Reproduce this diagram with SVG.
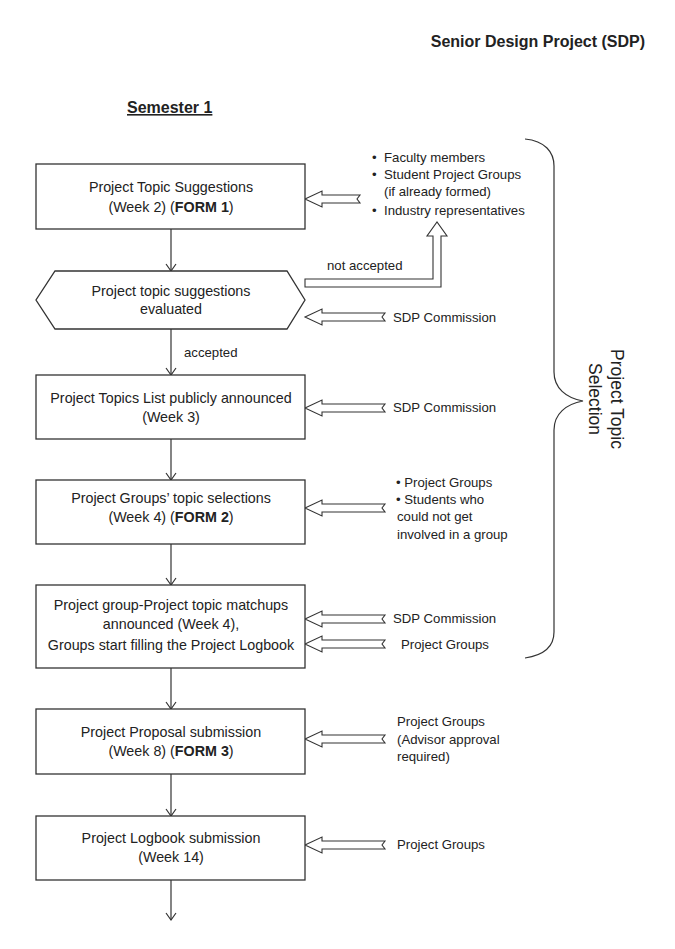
<svg xmlns="http://www.w3.org/2000/svg" xmlns:xlink="http://www.w3.org/1999/xlink" width="675" height="949" viewBox="0 0 675 949">
<style>
text{font-family:"Liberation Sans",Arial,sans-serif;fill:#222;}
.box{fill:#fff;stroke:#333;stroke-width:1.3;}
.nt{font-size:14.3px;text-anchor:middle;}
.lb{font-size:13.2px;}
.flow{stroke:#333;stroke-width:1.2;fill:none;}
.blk{fill:#fff;stroke:#333;stroke-width:1.1;stroke-linejoin:miter;}
.hd{font-size:16px;font-weight:bold;}
</style>
<defs>
<marker id="v" markerWidth="12" markerHeight="12" refX="10" refY="6" orient="auto" markerUnits="userSpaceOnUse" viewBox="0 0 12 12">
<path d="M3,1 L10,6 L3,11" fill="none" stroke="#333" stroke-width="1.2"/>
</marker>
<path id="ba80" d="M0,0 L17,-8 L17,-4 L80,-4 L77,0 L80,4 L17,4 L17,8 Z"/>
<path id="ba55" d="M0,0 L17,-8 L17,-4 L55,-4 L52,0 L55,4 L17,4 L17,8 Z"/>
</defs>

<text class="hd" x="645" y="47" text-anchor="end">Senior Design Project (SDP)</text>
<text class="hd" x="127" y="113" text-decoration="underline">Semester 1</text>

<g id="connectors">
<path class="flow" d="M171,229 V271" marker-end="url(#v)"/>
<path class="flow" d="M171,329 V375" marker-end="url(#v)"/>
<path class="flow" d="M171,439 V480" marker-end="url(#v)"/>
<path class="flow" d="M171,544 V585" marker-end="url(#v)"/>
<path class="flow" d="M171,668 V709" marker-end="url(#v)"/>
<path class="flow" d="M171,774 V816" marker-end="url(#v)"/>
<path class="flow" d="M171,880 V920" marker-end="url(#v)"/>
<text class="lb" x="184" y="357">accepted</text>
<use href="#ba55" xlink:href="#ba55" class="blk" transform="translate(305,199)"/>
<use href="#ba80" xlink:href="#ba80" class="blk" transform="translate(305,317)"/>
<use href="#ba80" xlink:href="#ba80" class="blk" transform="translate(305,408)"/>
<use href="#ba80" xlink:href="#ba80" class="blk" transform="translate(305,508)"/>
<use href="#ba80" xlink:href="#ba80" class="blk" transform="translate(305,619)"/>
<use href="#ba80" xlink:href="#ba80" class="blk" transform="translate(305,644)"/>
<use href="#ba80" xlink:href="#ba80" class="blk" transform="translate(305,739)"/>
<use href="#ba80" xlink:href="#ba80" class="blk" transform="translate(305,845)"/>
<path class="blk" d="M305,279 L433,279 L433,236 L427,236 L437,222 L447,236 L441,236 L441,287 L305,287 Z"/>
<text class="lb" x="327" y="270">not accepted</text>
</g>

<g id="n1">
<rect class="box" x="36" y="164" width="269" height="65"/>
<text class="nt" x="171" y="192">Project Topic Suggestions</text>
<text class="nt" x="171" y="212">(Week 2) (<tspan font-weight="bold">FORM 1</tspan>)</text>
</g>
<g id="n1src">
<text class="lb" x="372" y="162">•</text><text class="lb" x="384" y="162">Faculty members</text>
<text class="lb" x="372" y="179">•</text><text class="lb" x="384" y="179">Student Project Groups</text>
<text class="lb" x="384" y="196">(if already formed)</text>
<text class="lb" x="372" y="215">•</text><text class="lb" x="384" y="215">Industry representatives</text>
</g>

<g id="n2">
<path class="box" d="M55,271 L287,271 L305,300 L287,329 L55,329 L36,300 Z"/>
<text class="nt" x="171" y="296">Project topic suggestions</text>
<text class="nt" x="171" y="314">evaluated</text>
</g>
<text class="lb" x="393" y="322">SDP Commission</text>

<g id="n3">
<rect class="box" x="36" y="375" width="269" height="64"/>
<text class="nt" x="171" y="403">Project Topics List publicly announced</text>
<text class="nt" x="171" y="422">(Week 3)</text>
</g>
<text class="lb" x="393" y="412">SDP Commission</text>

<g id="n4">
<rect class="box" x="36" y="480" width="269" height="64"/>
<text class="nt" x="171" y="503">Project Groups’ topic selections</text>
<text class="nt" x="171" y="522">(Week 4) (<tspan font-weight="bold">FORM 2</tspan>)</text>
</g>
<g id="n4src">
<text class="lb" x="396" y="487">• Project Groups</text>
<text class="lb" x="396" y="504">• Students who</text>
<text class="lb" x="397" y="521">could not get</text>
<text class="lb" x="397" y="539">involved in a group</text>
</g>

<g id="n5">
<rect class="box" x="36" y="585" width="269" height="83"/>
<text class="nt" x="171" y="610">Project group-Project topic matchups</text>
<text class="nt" x="171" y="629">announced (Week 4),</text>
<text class="nt" x="171" y="650">Groups start filling the Project Logbook</text>
</g>
<text class="lb" x="393" y="623">SDP Commission</text>
<text class="lb" x="401" y="649">Project Groups</text>

<g id="n6">
<rect class="box" x="36" y="709" width="269" height="65"/>
<text class="nt" x="171" y="737">Project Proposal submission</text>
<text class="nt" x="171" y="756">(Week 8) (<tspan font-weight="bold">FORM 3</tspan>)</text>
</g>
<g id="n6src">
<text class="lb" x="397" y="726">Project Groups</text>
<text class="lb" x="397" y="744">(Advisor approval</text>
<text class="lb" x="397" y="761">required)</text>
</g>

<g id="n7">
<rect class="box" x="36" y="816" width="269" height="64"/>
<text class="nt" x="171" y="843">Project Logbook submission</text>
<text class="nt" x="171" y="862">(Week 14)</text>
</g>
<text class="lb" x="397" y="849">Project Groups</text>

<g id="brace">
<path class="flow" d="M525,139 C545,141 554,152 554,166 L554,372 C554,388 566,398 583,401 C566,404 554,414 554,430 L554,632 C554,646 545,655 525,658"/>
<text x="605" y="399" font-size="17.5" text-anchor="middle" transform="rotate(90 605 399)"><tspan x="605" dy="-6">Project Topic</tspan><tspan x="605" dy="22">Selection</tspan></text>
</g>
</svg>
